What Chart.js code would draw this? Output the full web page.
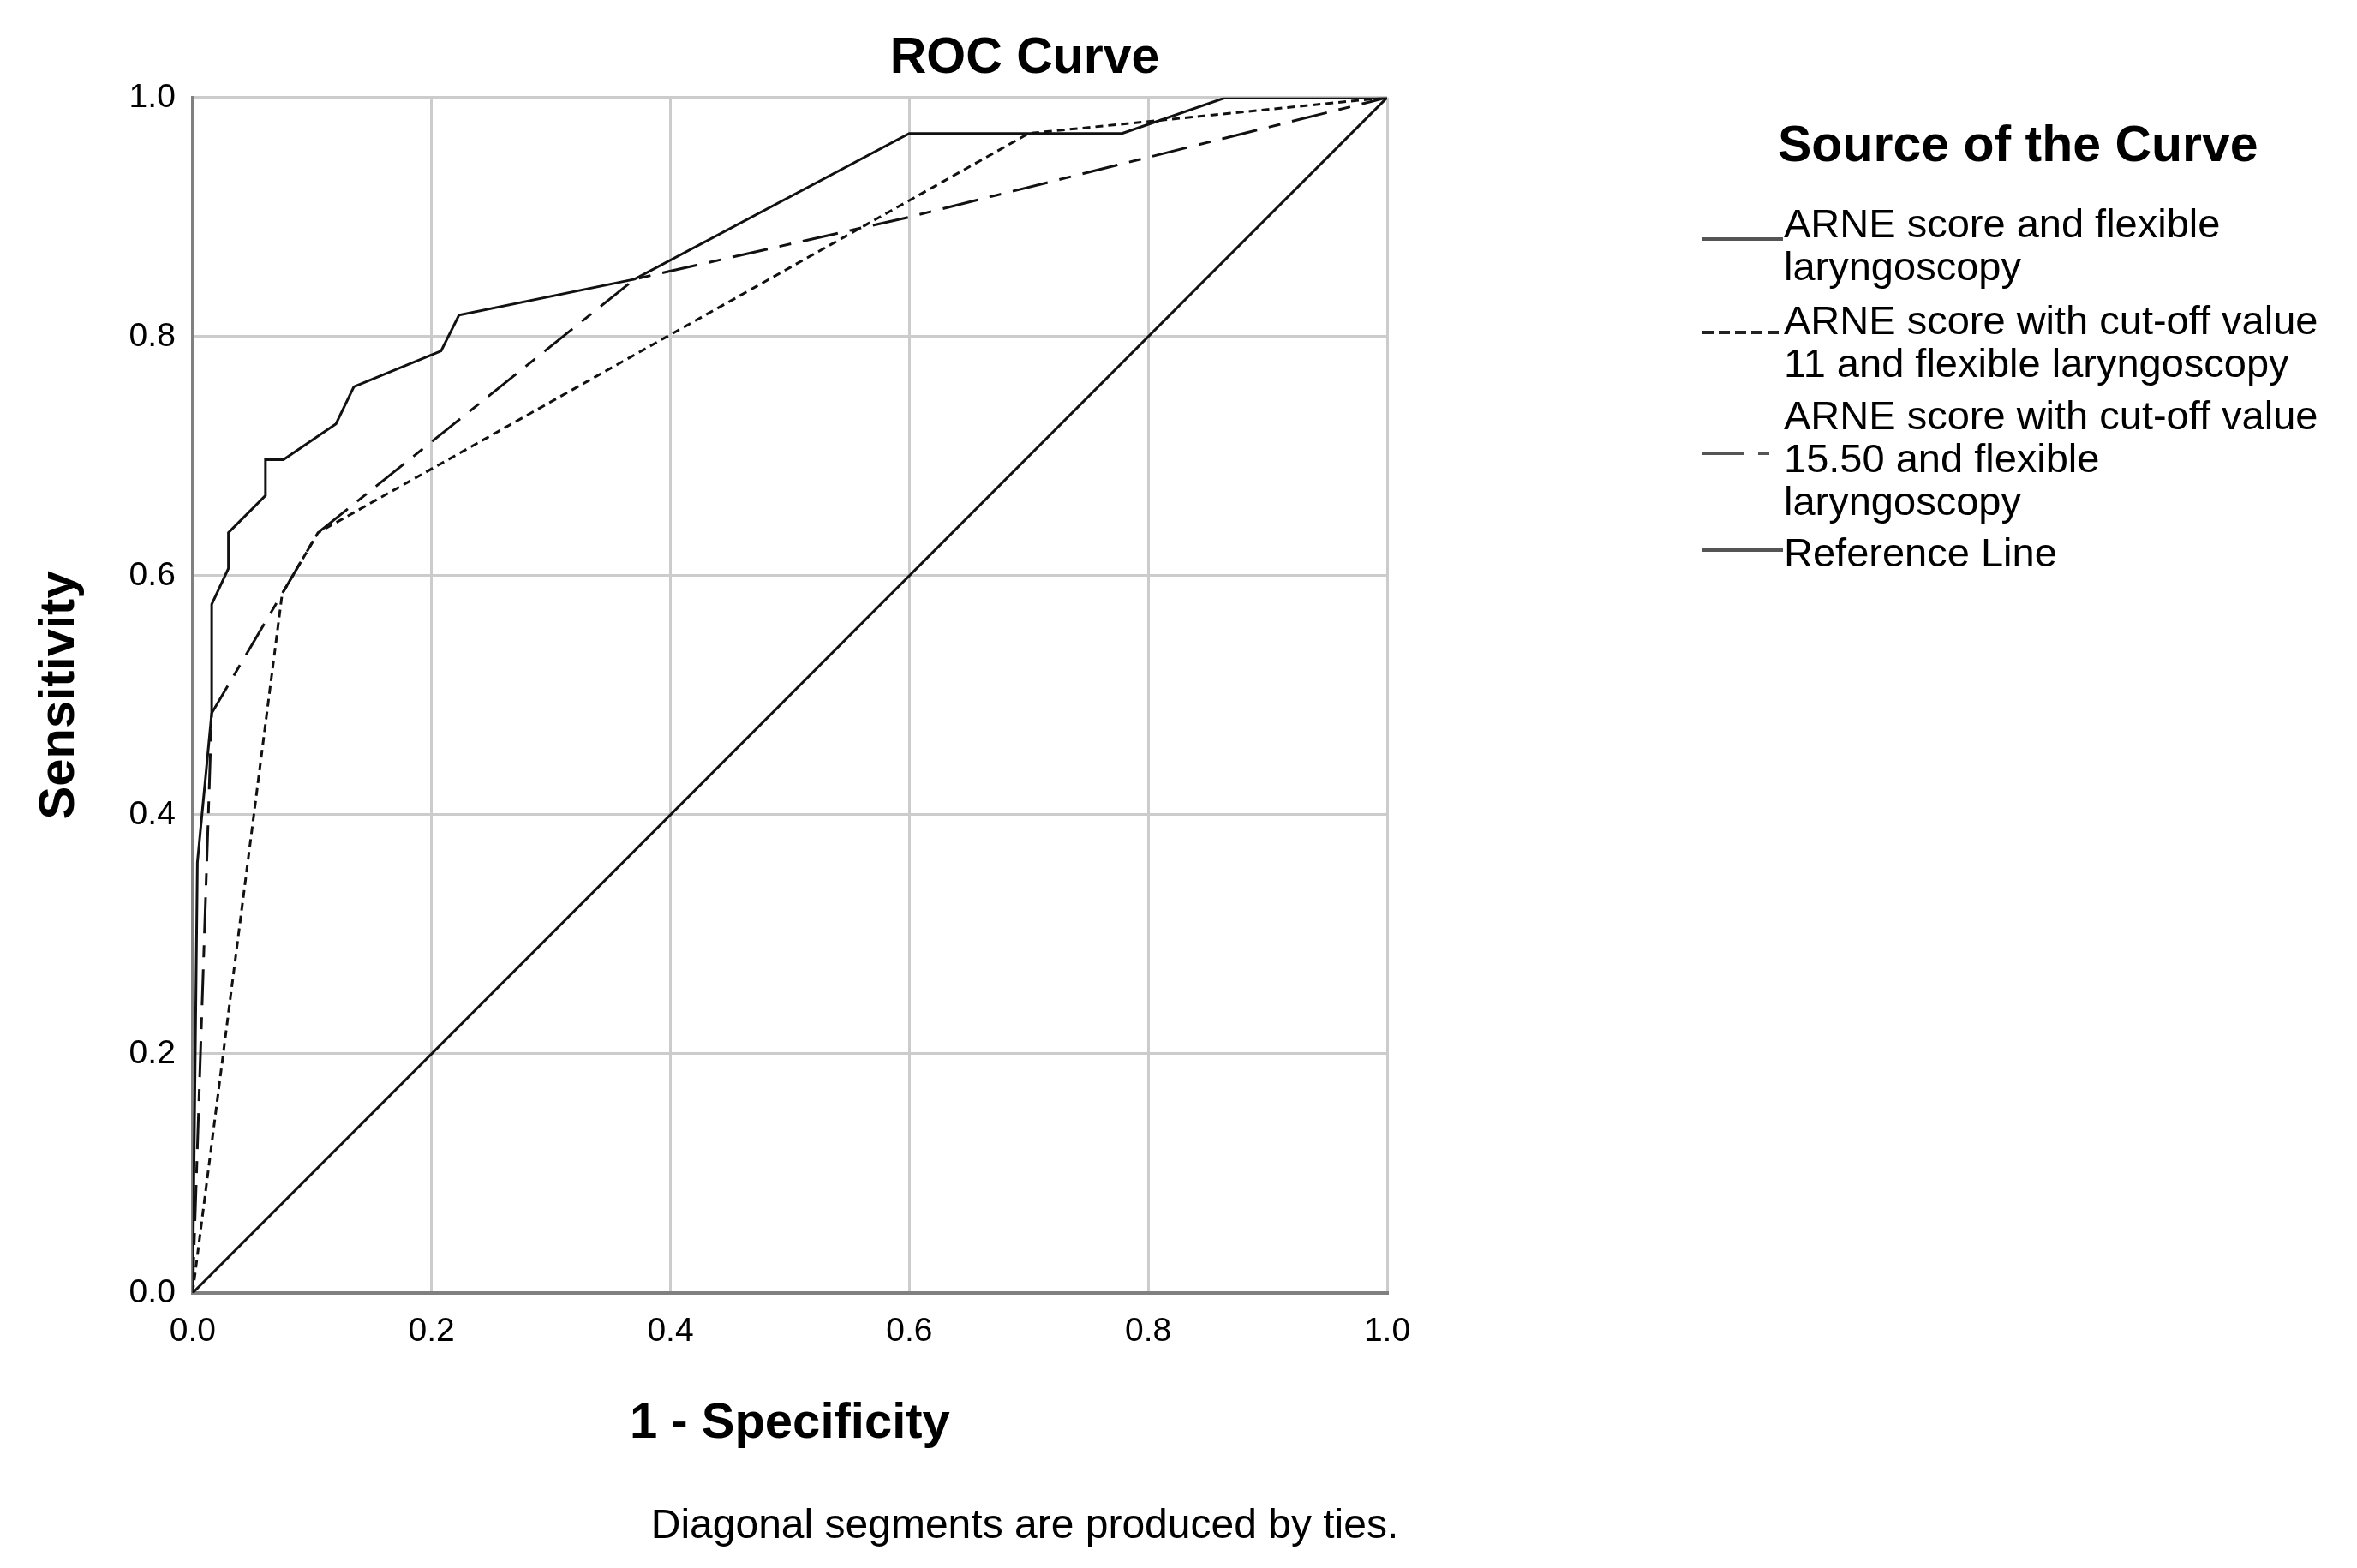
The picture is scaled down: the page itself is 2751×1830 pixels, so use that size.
<!DOCTYPE html>
<html>
<head>
<meta charset="utf-8">
<title>ROC Curve</title>
<script src="https://cdn.jsdelivr.net/npm/chart.js@4.4.1/dist/chart.umd.min.js"></script>
<style>
  body { margin: 0; background: #fff; }
  #wrap { position: relative; width: 2751px; height: 1830px; font-family: "Liberation Sans", Arial, sans-serif; color: #000; }
  #legendTitle { position: absolute; left: 2075px; top: 133px; font-size: 59px; font-weight: bold; line-height: 70px; white-space: nowrap; }
  .item { position: absolute; left: 1987px; }
  .item svg { position: absolute; left: 0; }
  .item .txt { position: absolute; left: 95px; font-size: 47px; line-height: 50px; white-space: nowrap; }
</style>
</head>
<body>
<div id="wrap">
  <canvas id="myChart"></canvas>
  <div id="legendTitle">Source of the Curve</div>
  <div id="legend"></div>
</div>
<script>
const ctx = document.getElementById("myChart");
Chart.defaults.font.family = '"Liberation Sans", Arial, sans-serif';
Chart.defaults.color = '#000';

// curve points (1 - specificity, sensitivity)
let arneFpr = [0, 0.004, 0.016, 0.016, 0.030, 0.030, 0.061, 0.061, 0.076, 0.120, 0.135, 0.208, 0.223, 0.370, 0.600, 0.778, 0.865, 1.0]
let arneTpr = [0, 0.360, 0.485, 0.576, 0.606, 0.636, 0.667, 0.697, 0.697, 0.727, 0.758, 0.788, 0.818, 0.848, 0.970, 0.970, 1.0, 1.0]

let cut11Fpr = [0, 0.075, 0.105, 0.700, 1.0]
let cut11Tpr = [0, 0.585, 0.636, 0.970, 1.0]

let cut155Fpr = [0, 0.016, 0.105, 0.370, 0.600, 1.0]
let cut155Tpr = [0, 0.485, 0.636, 0.848, 0.900, 1.0]

let refFpr = [0, 1]
let refTpr = [0, 1]

const tickValues = [0, 0.2, 0.4, 0.6, 0.8, 1.0]

const curveNames = [
  ['ARNE score and flexible', 'laryngoscopy'],
  ['ARNE score with cut-off value', '11 and flexible laryngoscopy'],
  ['ARNE score with cut-off value', '15.50 and flexible', 'laryngoscopy'],
  ['Reference Line']
]

function points(xs, ys){
  return xs.map((x, i) => ({x: x, y: ys[i]}))
}

const dashes = [[], [9, 6], [42, 14, 14, 14], []]

const myChart = new Chart(ctx, {
  type: 'scatter',
  data: {
    datasets: [
      { label: curveNames[0].join(' '), data: points(arneFpr, arneTpr), borderDash: dashes[0] },
      { label: curveNames[1].join(' '), data: points(cut11Fpr, cut11Tpr), borderDash: dashes[1] },
      { label: curveNames[2].join(' '), data: points(cut155Fpr, cut155Tpr), borderDash: dashes[2] },
      { label: curveNames[3].join(' '), data: points(refFpr, refTpr), borderDash: dashes[3] }
    ].map(d => Object.assign(d, {
      showLine: true, pointRadius: 0, tension: 0, borderWidth: 3,
      borderColor: '#111', backgroundColor: '#111', fill: false
    }))
  },
  options: {
    responsive: true,
    maintainAspectRatio: false,
    animation: false,
    layout: { padding: { left: 10, right: 369, top: 0, bottom: 19 } },
    scales: {
      x: {
        type: 'linear', min: 0, max: 1,
        afterBuildTicks: s => { s.ticks = tickValues.map(v => ({value: v})) },
        ticks: { callback: v => v.toFixed(1), font: { size: 39 }, padding: 22 },
        grid: { color: '#cccccc', lineWidth: 3, drawTicks: false },
        border: { color: '#808080', width: 4 },
        title: { display: true, text: '1 - Specificity', font: { size: 58, weight: 'bold' }, padding: { top: 27, bottom: 0 } }
      },
      y: {
        type: 'linear', min: 0, max: 1,
        afterBuildTicks: s => { s.ticks = tickValues.map(v => ({value: v})) },
        ticks: { callback: v => v.toFixed(1), font: { size: 39 }, padding: 20 },
        grid: { color: '#cccccc', lineWidth: 3, drawTicks: false },
        border: { color: '#808080', width: 4 },
        title: { display: true, text: 'Sensitivity', font: { size: 58, weight: 'bold' }, padding: { top: 25, bottom: 26 } }
      },
      // empty space between the plot and the legend, keeps the title centred like SPSS
      spacer: {
        type: 'linear', position: 'right', display: true,
        grid: { display: false, drawTicks: false },
        border: { display: false },
        ticks: { display: false },
        afterFit: s => { s.width = 763 }
      }
    },
    plugins: {
      legend: { display: false },
      tooltip: { enabled: false },
      title: {
        display: true, text: 'ROC Curve',
        font: { size: 59, weight: 'bold' },
        padding: { top: 33, bottom: 10 }
      },
      subtitle: {
        display: true, position: 'bottom',
        text: 'Diagonal segments are produced by ties.',
        font: { size: 48, weight: 'normal' },
        padding: { top: 57, bottom: 0 }
      }
    }
  }
});

// legend on the right (multi-line entries)
const itemTops = [236, 349, 460, 620]
const sampleTops = [279, 388, 529, 642]
const sampleColors = ['#555', '#222', '#555', '#555']
const sampleDash = ['', '13 6', '49 16 13 16', '']
const legend = document.getElementById('legend')
curveNames.forEach((lines, i) => {
  const item = document.createElement('div')
  item.className = 'item'
  item.style.top = itemTops[i] + 'px'
  const sy = sampleTops[i] - itemTops[i]
  item.innerHTML =
    '<svg width="96" height="8" style="top:' + (sy - 4) + 'px">' +
    '<line x1="0" y1="4" x2="94" y2="4" stroke="' + sampleColors[i] + '" stroke-width="4"' +
    (sampleDash[i] ? ' stroke-dasharray="' + sampleDash[i] + '"' : '') + '/></svg>' +
    '<div class="txt">' + lines.join('<br>') + '</div>'
  legend.appendChild(item)
})
</script>
</body>
</html>
